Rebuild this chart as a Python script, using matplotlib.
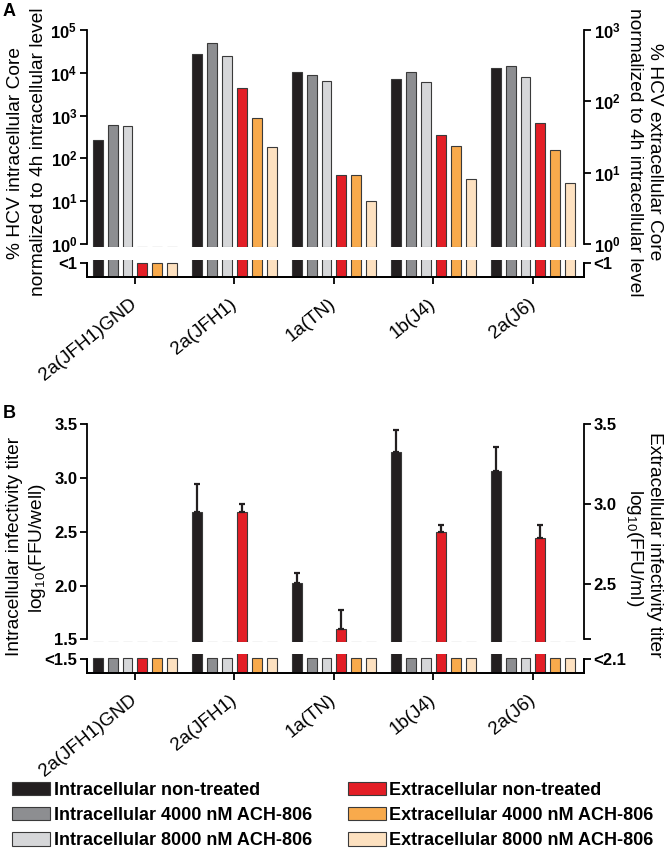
import numpy as np
import matplotlib
matplotlib.use('Agg')
import matplotlib.pyplot as plt
from matplotlib.patches import Patch
from matplotlib.ticker import NullLocator

plt.rcParams['font.family'] = ['Liberation Sans', 'DejaVu Sans']
plt.rcParams['mathtext.fontset'] = 'custom'
plt.rcParams['mathtext.rm'] = 'Liberation Sans'
plt.rcParams['mathtext.bf'] = 'Liberation Sans:bold'
plt.rcParams['mathtext.it'] = 'Liberation Sans:italic'

nan = np.nan
categories = ['2a(JFH1)GND', '2a(JFH1)', '1a(TN)', '1b(J4)', '2a(J6)']
series_names = ['Intracellular non-treated', 'Intracellular 4000 nM ACH-806',
                'Intracellular 8000 nM ACH-806', 'Extracellular non-treated',
                'Extracellular 4000 nM ACH-806', 'Extracellular 8000 nM ACH-806']
series_colors = ['#231f20', '#8d8e91', '#d6d7d9', '#e31e26', '#f8aa4c', '#fde1c0']

# Panel A: % HCV Core normalized to 4h intracellular level (NaN = <1)
a_intra_nt   = [265, 27000, 10600, 7000, 12700]
a_intra_4000 = [610, 50000, 9100, 10600, 14400]
a_intra_8000 = [570, 25000, 6600, 6200, 8000]
a_extra_nt   = [nan, 152, 9.3, 34, 49]
a_extra_4000 = [nan, 58, 9.3, 24, 20.6]
a_extra_8000 = [nan, 23, 4.0, 8.1, 7.2]

# Panel B: log10 infectivity titers (NaN = below detection)
b_intra_nt   = [nan, 2.68, 2.02, 3.24, 3.07]
b_intra_nt_err = [0, 0.26, 0.10, 0.21, 0.22]
b_intra_4000 = [nan, nan, nan, nan, nan]
b_intra_8000 = [nan, nan, nan, nan, nan]
b_extra_nt   = [nan, 2.95, 2.22, 2.83, 2.79]
b_extra_nt_err = [0, 0.05, 0.12, 0.04, 0.08]
b_extra_4000 = [nan, nan, nan, nan, nan]
b_extra_8000 = [nan, nan, nan, nan, nan]

W, H = 666, 850
fig = plt.figure(figsize=(W / 100, H / 100), dpi=100)

def add_ax(x0, y0, x1, y1):
    return fig.add_axes([x0 / W, 1 - y1 / H, (x1 - x0) / W, (y1 - y0) / H])

EDGE = '#3a3a3a'
LW_SP = 1.3
x = np.arange(len(categories))
offsets = (np.arange(6) - 2.5) * 0.15
BW = 0.10
XLIM = (-0.482, 4.513)
TICK_FS = 12
LABEL_FS = 13.8
CAT_FS = 13.5

def style_top(ax, side):
    for s in ['top', 'bottom', 'left', 'right']:
        ax.spines[s].set_visible(False)
    ax.spines[side].set_visible(True)
    ax.spines[side].set_linewidth(LW_SP)
    ax.tick_params(axis='y', which='major', direction='out', length=5, width=LW_SP,
                   labelsize=TICK_FS, pad=2)
    ax.tick_params(axis='x', which='both', bottom=False, labelbottom=False)
    for lab in ax.get_yticklabels():
        lab.set_fontweight('bold')
    ax.set_xlim(*XLIM)
    ax.patch.set_visible(False)

def panel(top_px, bot_top_px, low_px, low_bot_px, intra, extra, lscale, lylim, lspine,
          rylim, rspine, lticks, lticklabels, rticks, rticklabels, low_tick, low_bar,
          low_llabel, low_rlabel, intra_err=None, extra_err=None):
    axL = add_ax(87, top_px, 584, bot_top_px)
    axR = axL.twinx()
    axL.set_yscale(lscale)
    axR.set_yscale(lscale)
    axL.set_ylim(*lylim)
    axR.set_ylim(*rylim)
    axL.spines['left'].set_bounds(*lspine)
    axR.spines['right'].set_bounds(*rspine)
    for i, vals in enumerate(intra):
        axL.bar(x + offsets[i], np.nan_to_num(np.array(vals, float) - lylim[0], nan=0.0),
                bottom=lylim[0], width=BW, color=series_colors[i], edgecolor=EDGE, linewidth=0.8)
    for j, vals in enumerate(extra):
        i = j + 3
        axR.bar(x + offsets[i], np.nan_to_num(np.array(vals, float) - rylim[0], nan=0.0),
                bottom=rylim[0], width=BW, color=series_colors[i], edgecolor=EDGE, linewidth=0.8)
    if intra_err is not None:
        v = np.array(intra[0], float)
        m = ~np.isnan(v)
        axL.errorbar(x[m] + offsets[0], v[m], yerr=[np.zeros(m.sum()), np.array(intra_err)[m]],
                     fmt='none', ecolor='#231f20', elinewidth=1.6, capsize=2.5, capthick=1.6)
    if extra_err is not None:
        v = np.array(extra[0], float)
        m = ~np.isnan(v)
        axR.errorbar(x[m] + offsets[3], v[m], yerr=[np.zeros(m.sum()), np.array(extra_err)[m]],
                     fmt='none', ecolor='#231f20', elinewidth=1.6, capsize=2.5, capthick=1.6)
    axL.set_yticks(lticks)
    axL.set_yticklabels(lticklabels)
    axR.set_yticks(rticks)
    axR.set_yticklabels(rticklabels)
    axL.yaxis.set_minor_locator(NullLocator())
    axR.yaxis.set_minor_locator(NullLocator())
    style_top(axL, 'left')
    style_top(axR, 'right')

    # lower (below-detection) segment
    low = add_ax(87, low_px, 584, low_bot_px)
    lowR = low.twinx()
    low.set_ylim(0, 1)
    lowR.set_ylim(0, 1)
    for i in range(6):
        vals = np.array((intra + extra)[i], float)
        heights = np.where(np.isnan(vals), low_bar, 1.6)
        low.bar(x + offsets[i], heights, width=BW, color=series_colors[i],
                edgecolor=EDGE, linewidth=0.8)
    for a in (low, lowR):
        a.spines['top'].set_visible(False)
        for s in ['left', 'right', 'bottom']:
            a.spines[s].set_linewidth(LW_SP)
        a.spines['left'].set_bounds(0, low_tick)
        a.spines['right'].set_bounds(0, low_tick)
        a.set_xlim(*XLIM)
        a.tick_params(axis='y', direction='out', length=5, width=LW_SP, labelsize=TICK_FS, pad=2)
    low.set_yticks([low_tick])
    low.set_yticklabels([low_llabel], fontweight='bold')
    lowR.set_yticks([low_tick])
    lowR.set_yticklabels([low_rlabel], fontweight='bold')
    low.set_xticks(x)
    low.set_xticklabels(categories, rotation=39, ha='right', va='center',
                        rotation_mode='anchor', fontsize=CAT_FS)
    low.tick_params(axis='x', direction='out', length=5, width=LW_SP, pad=13)
    lowR.tick_params(axis='x', bottom=False, labelbottom=False)
    return axL, axR, low

# Panel A
decA = (244 - 30) / 5.0
lowA = 10 ** (-(246.5 - 244) / decA)
decAr = (244 - 30) / 3.0
lowAr = 10 ** (-(246.5 - 244) / decAr)
panel(
    30, 246.5, 260, 277,
    [a_intra_nt, a_intra_4000, a_intra_8000], [a_extra_nt, a_extra_4000, a_extra_8000],
    'log', (lowA, 1e5), (1, 1e5), (lowAr, 1e3), (1, 1e3),
    [1, 10, 100, 1e3, 1e4, 1e5],
    [r'$\mathbf{10^{%d}}$' % k for k in range(6)],
    [1, 10, 100, 1e3], [r'$\mathbf{10^{%d}}$' % k for k in range(4)],
    0.82, 0.85, '<1', '<1')

fig.text(16 / W, 1 - 153 / H, '% HCV intracellular Core', rotation=90,
         ha='center', va='center', fontsize=LABEL_FS)
fig.text(39 / W, 1 - 152 / H, 'normalized to 4h intracellular level', rotation=90,
         ha='center', va='center', fontsize=LABEL_FS)
fig.text(655 / W, 1 - 152 / H, '% HCV extracellular Core', rotation=270,
         ha='center', va='center', fontsize=LABEL_FS)
fig.text(634 / W, 1 - 152 / H, 'normalized to 4h intracellular level', rotation=270,
         ha='center', va='center', fontsize=LABEL_FS)

# Panel B
pxu = (639.3 - 424.3) / 2.0
lowB = 1.5 - (642 - 639.3) / pxu
lowBr = 3.5 - (642 - 424.3) / 160.0
rend = 3.5 - (639.3 - 424.3) / 160.0
panel(
    424.3, 642, 654, 673,
    [b_intra_nt, b_intra_4000, b_intra_8000], [b_extra_nt, b_extra_4000, b_extra_8000],
    'linear', (lowB, 3.5), (1.5, 3.5), (lowBr, 3.5), (rend, 3.5),
    [1.5, 2.0, 2.5, 3.0, 3.5], ['1.5', '2.0', '2.5', '3.0', '3.5'],
    [rend, 2.5, 3.0, 3.5], ['', '2.5', '3.0', '3.5'],
    0.74, 0.8, '<1.5', '<2.1',
    intra_err=b_intra_nt_err, extra_err=b_extra_nt_err)

fig.text(15 / W, 1 - 546 / H, 'Intracellular infectivity titer', rotation=90,
         ha='center', va='center', fontsize=LABEL_FS)
fig.text(38 / W, 1 - 548 / H, r'log$_{10}$(FFU/well)', rotation=90,
         ha='center', va='center', fontsize=LABEL_FS)
fig.text(655 / W, 1 - 545 / H, 'Extracellular infectivity titer', rotation=270,
         ha='center', va='center', fontsize=LABEL_FS)
fig.text(635 / W, 1 - 548 / H, r'log$_{10}$(FFU/ml)', rotation=270,
         ha='center', va='center', fontsize=LABEL_FS)

fig.text(3 / W, 1 - 11 / H, 'A', fontsize=13, fontweight='bold', ha='left', va='center')
fig.text(3 / W, 1 - 414 / H, 'B', fontsize=13, fontweight='bold', ha='left', va='center')

handles = [Patch(facecolor=c, edgecolor=EDGE, linewidth=0.8) for c in series_colors]
fig.legend(handles, series_names,
           ncol=2, loc='upper left', bbox_to_anchor=(12 / W, 1 - 782 / H),
           frameon=False, handlelength=2.1, handleheight=0.75, handletextpad=0.2,
           columnspacing=2.0, labelspacing=0.45, borderaxespad=0, borderpad=0,
           prop={'family': 'Liberation Sans', 'weight': 'bold', 'size': 13})

fig.savefig('out.png', dpi=100)
